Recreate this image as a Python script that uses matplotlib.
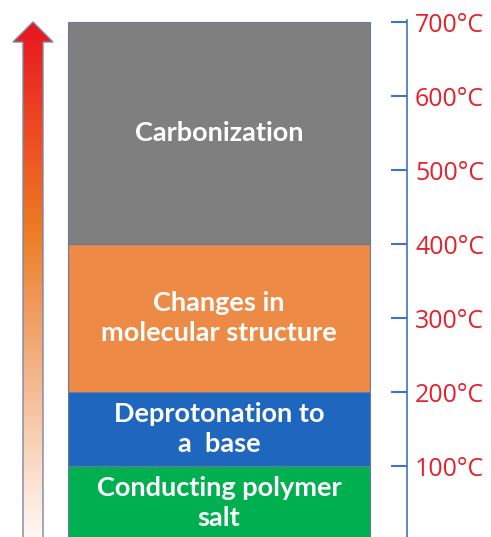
import numpy as np
import matplotlib
matplotlib.use("Agg")
import matplotlib.pyplot as plt
from matplotlib.colors import LinearSegmentedColormap
from matplotlib.patches import Polygon

# ---- data ----
stages = ["Conducting polymer\nsalt", "Deprotonation to\na  base",
          "Changes in\nmolecular structure", "Carbonization"]
stage_start = [0, 100, 200, 400]      # °C
stage_end = [100, 200, 400, 700]      # °C
stage_colors = ["#00b050", "#1f66bf", "#ed8a45", "#7f7f7f"]
tick_values = [100, 200, 300, 400, 500, 600, 700]
tick_labels = ["100°C", "200°C", "300°C", "400°C", "500°C", "600°C", "700°C"]

W, H = 491, 537
fig = plt.figure(figsize=(W / 100, H / 100), dpi=100)
px = 0.74  # pixels per °C
top_px = 20
ax = fig.add_axes([0, 0, 407 / W, (H - top_px) / H])
ylim_top = 700 + (22 - top_px) / px
ylim_bot = 100 - (H - 466) / px
ax.set_xlim(0, 407)
ax.set_ylim(ylim_bot, ylim_top)

heights = [e - s for s, e in zip(stage_start, stage_end)]
ax.bar([219] * 4, heights, bottom=stage_start, width=302, color=stage_colors,
       edgecolor="#687aa2", linewidth=0.8, zorder=2)

for s, e, lab in zip(stage_start, stage_end, stages):
    ax.text(219, (s + e) / 2, lab, ha="center", va="center", color="white",
            fontsize=19.5, fontweight="bold", family="Lato", linespacing=1.32,
            zorder=3)

# gradient arrow
x0, x1, hx0, hx1 = 23, 43, 13, 53
tip = 700
hb = 700 - 20 / px
arrow_pts = [(x0, -50), (x0, hb), (hx0, hb), ((hx0 + hx1) / 2, tip),
             (hx1, hb), (x1, hb), (x1, -50)]
poly = Polygon(arrow_pts, closed=True, facecolor="none", edgecolor="#7b86a8",
               linewidth=1.0, zorder=5)
ax.add_patch(poly)
cmap = LinearSegmentedColormap.from_list("heat", [
    (0.0, "#fffaf6"), (189 / 700, "#f5c09a"), (324 / 700, "#f09858"),
    (419 / 700, "#ec7c22"), (527 / 700, "#ee5423"), (1.0, "#e8161f")])
grad = np.linspace(0, 1, 512).reshape(-1, 1)
im = ax.imshow(grad, extent=[hx0, hx1, 0, 700], origin="lower", cmap=cmap,
               aspect="auto", zorder=4)
im.set_clip_path(poly)

# temperature axis
for sp in ["left", "top", "bottom"]:
    ax.spines[sp].set_visible(False)
ax.spines["right"].set_color("#4472c4")
ax.spines["right"].set_linewidth(1.2)
ax.set_xticks([])
ax.yaxis.tick_right()
ax.set_yticks(tick_values)
ax.set_yticklabels(tick_labels)
ax.tick_params(axis="y", direction="in", length=11.5, width=1.5,
               color="#4472c4", labelcolor="#e3232b", labelsize=18, pad=5.8)
for t in ax.get_yticklabels():
    t.set_family("Open Sans")

fig.savefig("out.png", dpi=100)
